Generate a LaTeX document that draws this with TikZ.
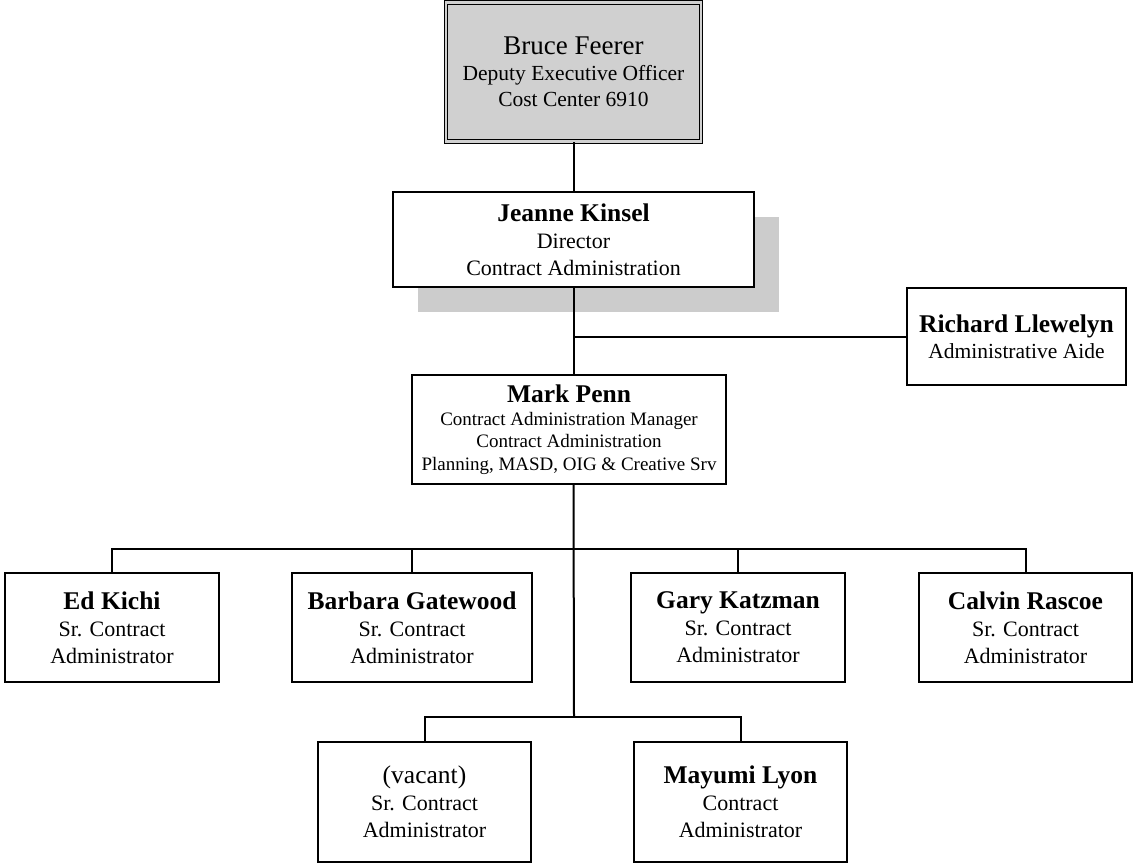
\documentclass[tikz,border=0pt]{standalone}
\usepackage{fontspec}
\setmainfont{Liberation Serif}
\usetikzlibrary{positioning, shadows}
\definecolor{boxgray}{RGB}{208,208,208}
\definecolor{shadowgray}{RGB}{204,204,204}
\newcommand{\pname}[1]{{\fontsize{25.5}{28}\selectfont\bfseries #1}}

\begin{document}
\begin{tikzpicture}[x=1pt, y=-1pt,
    box/.style={draw, line width=1.8pt, fill=white, align=center, inner sep=0pt,
        font=\fontsize{22}{27}\selectfont},
    boss/.style={box, fill=boxgray, double=boxgray, double distance=2.4pt, line width=1.2pt},
    link/.style={line width=2pt}]
    \useasboundingbox (0,0) rectangle (1135,864);
    % top of the chart
    \node[boss, minimum width=255pt, minimum height=139pt, font=\fontsize{21.5}{26}\selectfont] (bruce) at (573.5,72)
        {{\fontsize{27}{28}\selectfont Bruce Feerer}\\Deputy Executive Officer\\Cost Center 6910};
    \node[box, minimum width=361pt, minimum height=95pt,
        general shadow={fill=shadowgray, shadow xshift=25pt, shadow yshift=-25pt}] (jeanne) at (573.5,239.5)
        {\pname{Jeanne Kinsel}\\Director\\Contract Administration};
    \node[box, minimum width=219pt, minimum height=97pt, font=\fontsize{21.5}{26}\selectfont] (richard) at (1016.5,336.5)
        {\pname{Richard Llewelyn}\\Administrative Aide};
    \node[box, minimum width=314pt, minimum height=109pt, font=\fontsize{19}{22.5}\selectfont] (mark) at (569,429.5)
        {\pname{Mark Penn}\\Contract Administration Manager\\Contract Administration\\Planning, MASD, OIG \& Creative Srv};
    % staff
    \node[box, minimum width=214pt, minimum height=109pt] (ed) at (112,627.5)
        {\pname{Ed Kichi}\\Sr. Contract\\Administrator};
    \node[box, minimum width=240pt, minimum height=109pt] (barbara) at (412,627.5)
        {\pname{Barbara Gatewood}\\Sr. Contract\\Administrator};
    \node[box, minimum width=214pt, minimum height=109pt] (gary) at (738,627.5)
        {\pname{Gary Katzman}\\Sr. Contract\\Administrator};
    \node[box, minimum width=213pt, minimum height=109pt] (calvin) at (1025.5,627.5)
        {\pname{Calvin Rascoe}\\Sr. Contract\\Administrator};
    \node[box, minimum width=213pt, minimum height=120pt] (vacant) at (424.5,802)
        {{\fontsize{25.5}{28}\selectfont (vacant)}\\Sr. Contract\\Administrator};
    \node[box, minimum width=213pt, minimum height=120pt] (mayumi) at (740.5,802)
        {\pname{Mayumi Lyon}\\Contract\\Administrator};
    % connectors
    \coordinate (bar) at (574,549);
    \coordinate (lowbar) at (574,717);
    \draw[link] (bruce) -- (jeanne);
    \draw[link] (jeanne.south) -- (jeanne.south |- mark.north);
    \draw[link] (richard.west) -- (richard.west -| jeanne.south);
    \draw[link] (jeanne.south |- mark.south) -- (lowbar);
    \draw[link] (ed.north) |- (bar) -| (calvin.north);
    \draw[link] (barbara.north) -- (barbara.north |- bar);
    \draw[link] (gary.north) -- (gary.north |- bar);
    \draw[link] (vacant.north) |- (lowbar) -| (mayumi.north);
\end{tikzpicture}
\end{document}
